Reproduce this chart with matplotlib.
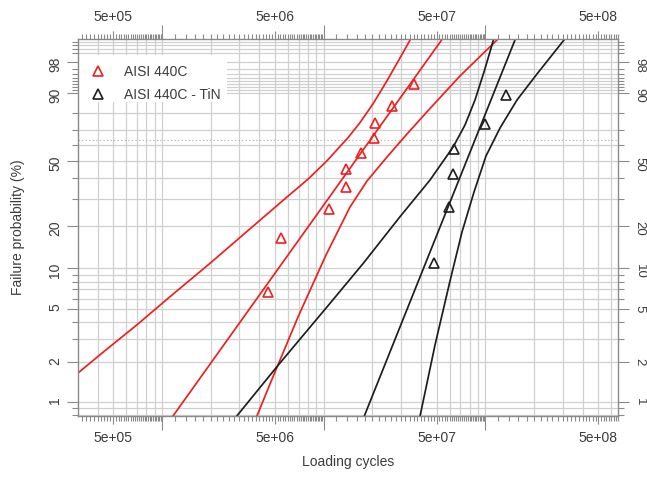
import numpy as np
import matplotlib
matplotlib.use("Agg")
import matplotlib.pyplot as plt
from matplotlib.patches import Rectangle
from matplotlib.ticker import NullFormatter

plt.rcParams['font.family'] = ['Liberation Sans', 'DejaVu Sans']
plt.rcParams['font.size'] = 10

RED = '#ec2020'
BLACK = '#1e1e1e'
GRID = '#d0d0d0'
FRAME = '#8a8a8a'
TEXT = '#3c3c3c'

# ---- failure data: cycles to failure and median-rank probability (%) ----
steel_cycles = [4.51e6, 5.45e6, 1.08e7, 1.37e7, 1.37e7, 1.69e7, 2.06e7, 2.08e7, 2.66e7, 3.62e7]
steel_prob = [6.73, 16.35, 25.96, 35.58, 45.19, 54.81, 64.42, 74.04, 83.65, 93.27]
tin_cycles = [4.79e7, 5.98e7, 6.31e7, 6.40e7, 9.91e7, 1.34e8]
tin_prob = [10.94, 26.56, 42.19, 57.81, 73.44, 89.06]

# ---- fitted Weibull lines (end points) ----
steel_fit_cycles = [1.123e6, 5.59e7]
steel_fit_prob = [0.73, 99.804]
tin_fit_cycles = [1.743e7, 1.560e8]
tin_fit_prob = [0.73, 99.804]

# ---- confidence bounds ----
steel_lower_cycles = [2.70e5, 4.34e5, 6.98e5, 1.121e6, 1.982e6, 3.671e6, 5.906e6,
                      8.035e6, 1.044e7, 1.421e7, 1.677e7, 2.028e7, 2.454e7, 3.038e7, 3.599e7]
steel_lower_prob = [1.479, 2.391, 3.814, 6.193, 10.861, 19.86, 30.69,
                    39.74, 49.96, 65.07, 74.32, 85.16, 94.00, 98.85, 99.847]
steel_upper_cycles = [3.777e6, 4.657e6, 6.937e6, 1.0337e7, 1.4554e7, 1.8532e7, 2.4644e7,
                      3.276e7, 4.5475e7, 6.968e7, 1.18e8, 1.2493e8]
steel_upper_prob = [0.73, 1.370, 4.377, 12.454, 26.59, 38.62, 52.48,
                    67.19, 82.53, 95.44, 99.70, 99.80]
tin_lower_cycles = [2.770e6, 5.196e6, 1.0944e7, 1.758e7, 2.965e7, 4.548e7, 6.334e7,
                    7.481e7, 8.6275e7, 9.806e7, 1.0989e8, 1.1387e8]
tin_lower_prob = [0.73, 1.884, 5.532, 10.861, 22.94, 39.145, 58.99,
                  72.89, 86.80, 96.36, 99.512, 99.804]
tin_upper_cycles = [3.898e7, 4.881e7, 6.042e7, 7.169e7, 8.506e7, 1.009e8, 1.232e8,
                    1.569e8, 2.086e8, 3.064e8, 3.207e8]
tin_upper_prob = [0.73, 2.699, 8.077, 18.063, 33.12, 53.10, 71.01,
                  86.80, 95.92, 99.70, 99.804]

# ---- axis ticks and grid ----
x_major = [5e5, 1e6, 5e6, 1e7, 5e7, 1e8, 5e8]
x_major_labels = ['5e+05', '', '5e+06', '', '5e+07', '', '5e+08']
y_major = [1, 2, 5, 10, 20, 50, 90, 98]
y_major_labels = ['1', '2', '5', '10', '20', '50', '90', '98']
prob_grid = ([0.8, 0.9] + list(range(1, 10)) + list(range(10, 100, 10))
             + list(range(91, 100)) + [99.3, 99.5, 99.65])


def weibull_fwd(p):
    p = np.asarray(p, dtype=float)
    with np.errstate(all='ignore'):
        return np.log(-np.log(1.0 - p / 100.0))


def weibull_inv(w):
    w = np.asarray(w, dtype=float)
    with np.errstate(all='ignore'):
        return 100.0 * (1.0 - np.exp(-np.exp(w)))


W, H = 647, 491
fig = plt.figure(figsize=(W / 100, H / 100), dpi=100)
x0, x1, y0, y1 = 77.7, 618.3, 39.3, 416.0
ax = fig.add_axes([x0 / W, 1 - y1 / H, (x1 - x0) / W, (y1 - y0) / H])
ax.set_xscale('log')
ax.set_yscale('function', functions=(weibull_fwd, weibull_inv))
ax.set_xlim(3.012e5, 6.638e8)
ax.set_ylim(0.7835, 99.72)

# grid
x_grid = [k * 10.0 ** e for e in range(5, 9) for k in range(1, 10)]
for v in x_grid:
    if 3.012e5 <= v <= 6.638e8:
        ax.axvline(v, color=GRID, lw=0.9, zorder=0.5)
for p in prob_grid:
    ax.axhline(p, color=GRID, lw=0.9, zorder=0.5)
ax.axhline(63.21, color='#b5b5b5', lw=0.8, ls=(0, (1.2, 2.0)), zorder=0.6)

# legend background
ax.add_patch(Rectangle((0, (y1 - 102) / (y1 - y0)), (227 - x0) / (x1 - x0),
                       (102 - 55) / (y1 - y0), transform=ax.transAxes,
                       facecolor='white', edgecolor='none', zorder=0.8))

lw = 1.25
ax.plot(steel_fit_cycles, steel_fit_prob, color=RED, lw=lw, zorder=2)
ax.plot(steel_lower_cycles, steel_lower_prob, color=RED, lw=lw, zorder=2)
ax.plot(steel_upper_cycles, steel_upper_prob, color=RED, lw=lw, zorder=2)
ax.plot(tin_fit_cycles, tin_fit_prob, color=BLACK, lw=lw, zorder=2)
ax.plot(tin_lower_cycles, tin_lower_prob, color=BLACK, lw=lw, zorder=2)
ax.plot(tin_upper_cycles, tin_upper_prob, color=BLACK, lw=lw, zorder=2)

mk = dict(marker='^', ls='none', mfc='none', ms=7, mew=1.2, zorder=3)
ax.plot(steel_cycles, steel_prob, mec=RED, **mk)
ax.plot(tin_cycles, tin_prob, mec=BLACK, **mk)

# legend
lx = (97.7 - x0) / (x1 - x0)
tx = (124 - x0) / (x1 - x0)
for label, col, ym, yt in [('AISI 440C', RED, 70.5, 72.5),
                           ('AISI 440C - TiN', BLACK, 94.0, 95.0)]:
    ax.plot([lx], [(y1 - ym) / (y1 - y0)], transform=ax.transAxes, mec=col,
            clip_on=False, **mk)
    ax.text(tx, (y1 - yt) / (y1 - y0), label, transform=ax.transAxes,
            va='center', ha='left', color=TEXT, fontsize=10, zorder=4)

# ticks
x_minor = []
for start, stop, step in [(3e5, 1e6, 2e4), (1e6, 1e7, 2e5), (1e7, 1e8, 2e6), (1e8, 7e8, 2e7)]:
    for v in np.arange(start, stop, step):
        if 3.012e5 <= v <= 6.638e8 and not any(abs(v - m) < 1e-6 * m for m in x_major):
            x_minor.append(v)
ax.set_xticks(x_major, labels=x_major_labels)
ax.set_xticks(x_minor, minor=True)
ax.xaxis.set_minor_formatter(NullFormatter())
ax.set_yticks(y_major, labels=y_major_labels)
ax.set_yticks([p for p in prob_grid if p not in y_major], minor=True)
ax.yaxis.set_minor_formatter(NullFormatter())

ax.tick_params(axis='both', which='both', direction='out', color=FRAME, width=0.8,
               labelcolor=TEXT, labelsize=10)
ax.tick_params(axis='x', which='both', top=True, labeltop=True, bottom=True, labelbottom=True)
ax.tick_params(axis='x', which='major', length=5.8, pad=5)
ax.tick_params(axis='x', which='minor', length=3.4)
ax.tick_params(axis='y', which='both', left=True, right=True, labelleft=True, labelright=True)
ax.tick_params(axis='y', which='major', length=8, pad=3, labelrotation=90)
ax.tick_params(axis='y', which='minor', length=4)

for spine in ax.spines.values():
    spine.set_color(FRAME)
    spine.set_linewidth(1.0)

for t, v in zip(ax.xaxis.get_major_ticks(), x_major):
    if abs(np.log10(v) - round(np.log10(v))) < 1e-9:
        t.tick1line.set_markersize(10)
        t.tick2line.set_markersize(10)
for t in ax.yaxis.get_major_ticks():
    t.label1.set_rotation(90)
    t.label2.set_rotation(-90)
    t.label2.set_fontsize(9.5)
    t.set_pad(3)

fig.text((x0 + x1) / 2 / W, 1 - 462 / H, 'Loading cycles', ha='center', va='center',
         color=TEXT, fontsize=10)
fig.text(18 / W, 1 - (y0 + y1) / 2 / H, 'Failure probability (%)', ha='center',
         va='center', rotation=90, color=TEXT, fontsize=10)

fig.savefig('out.png', dpi=100)
